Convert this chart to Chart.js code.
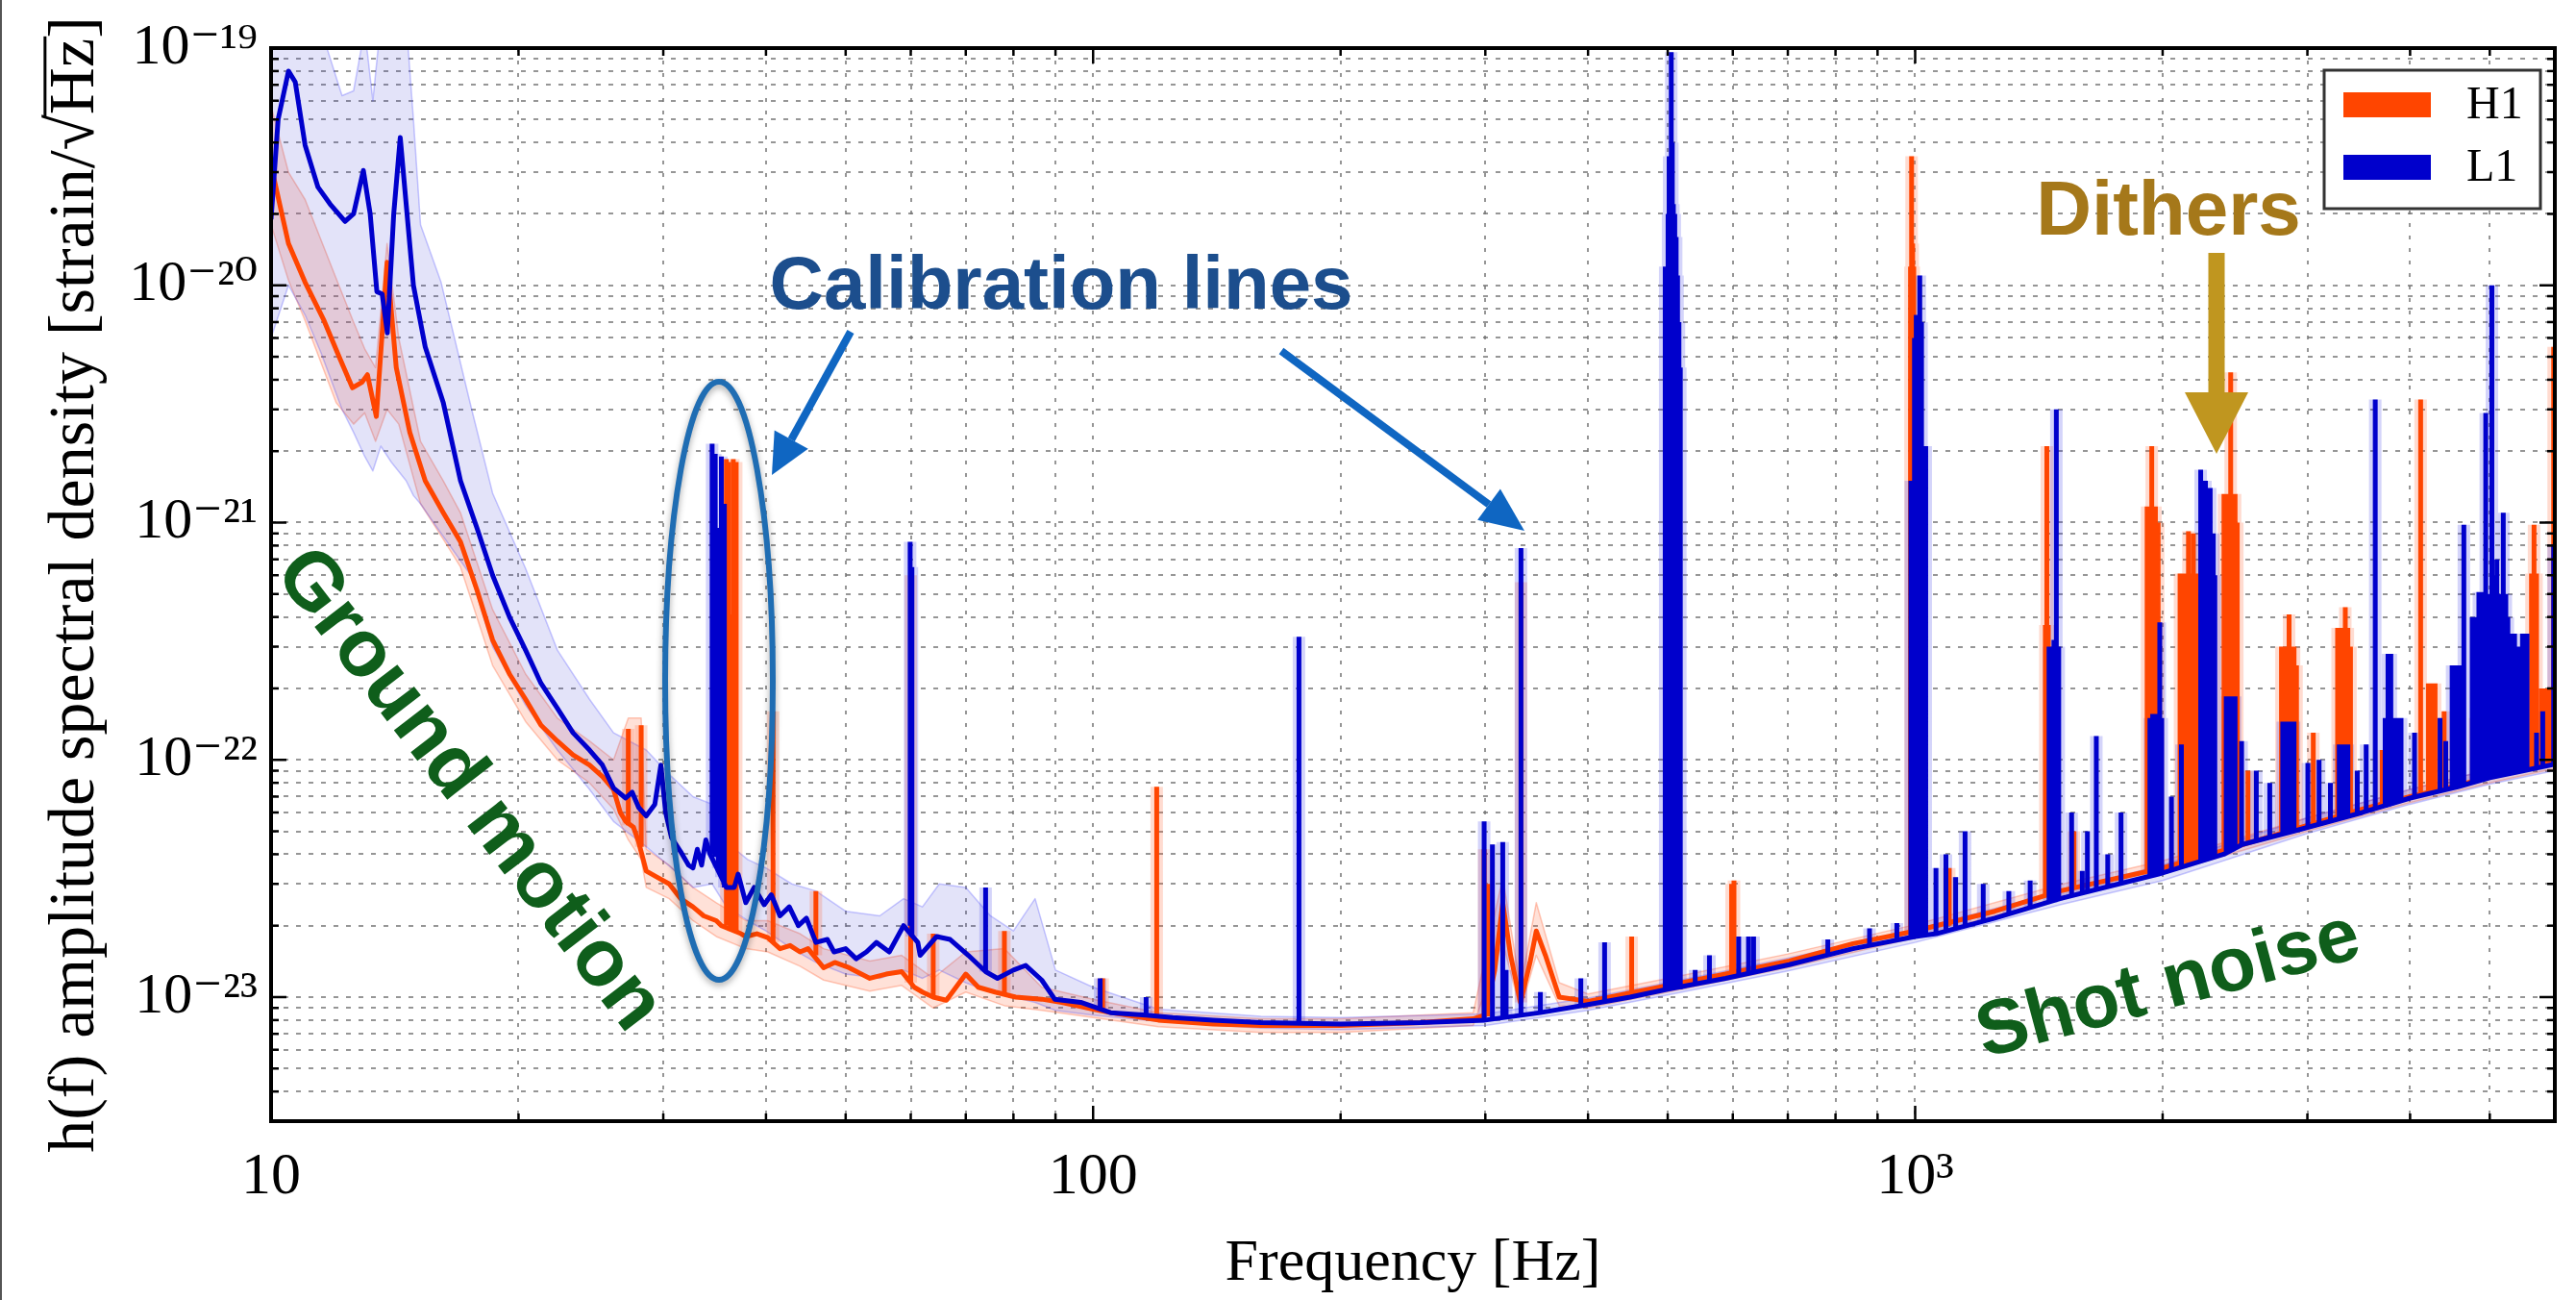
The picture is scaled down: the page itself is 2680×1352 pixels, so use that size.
<!DOCTYPE html>
<html>
<head>
<meta charset="utf-8">
<script src="https://cdn.jsdelivr.net/npm/chart.js@4.4.1/dist/chart.umd.min.js"></script>
<style>
html,body{margin:0;padding:0;background:#fff;}
#wrap{position:relative;width:2680px;height:1352px;}
canvas{display:block;}
</style>
</head>
<body>
<div id="wrap"><canvas id="c" width="2680" height="1352"></canvas></div>
<script>
// ---------------- DATA ----------------
// Median amplitude spectral density curves: [frequency Hz, strain/sqrt(Hz)]
const l1Curve = [
[10.0,1.9e-20],[10.2,5.0e-20],[10.5,8.0e-20],[10.7,7.2e-20],[11.0,3.9e-20],[11.4,2.6e-20],[11.8,2.2e-20],[12.3,1.86e-20],[12.6,2.0e-20],[12.95,3.05e-20],[13.2,2.0e-20],[13.45,9.4e-21],[13.65,9.2e-21],[13.85,6.3e-21],[14.1,2.0e-20],[14.36,4.2e-20],[14.6,2.2e-20],[14.9,1.0e-20],[15.4,5.5e-21],[16.2,3.2e-21],[17.0,1.5e-21],[17.8,9.5e-22],[18.6,6.0e-22],[19.5,4.0e-22],[20.4,2.9e-22],[21.3,2.1e-22],[22.3,1.65e-22],[23.3,1.3e-22],[24.4,1.1e-22],[25.3,9.5e-23],[26.1,7.6e-23],[27.0,6.9e-23],[27.5,7.3e-23],[28.0,6.3e-23],[28.6,5.8e-23],[29.3,6.5e-23],[29.8,9.5e-23],[30.2,6.0e-23],[30.7,4.7e-23],[31.5,4.1e-23],[32.2,3.6e-23],[32.6,3.5e-23],[33.0,4.2e-23],[33.4,3.6e-23],[33.8,4.6e-23],[34.2,4.0e-23],[35.8,2.9e-23],[36.6,2.9e-23],[37.0,3.3e-23],[37.8,2.5e-23],[38.7,2.9e-23],[39.8,2.45e-23],[40.6,2.7e-23],[41.6,2.2e-23],[42.7,2.4e-23],[43.8,2.0e-23],[44.8,2.15e-23],[46.0,1.7e-23],[47.5,1.75e-23],[48.4,1.55e-23],[50.0,1.6e-23],[51.5,1.45e-23],[53.0,1.55e-23],[54.5,1.7e-23],[56.5,1.55e-23],[58.8,2.0e-23],[61.2,1.7e-23],[61.6,1.5e-23],[64.5,1.8e-23],[67.0,1.75e-23],[70.5,1.5e-23],[74.0,1.28e-23],[76.5,1.2e-23],[80.0,1.3e-23],[82.8,1.36e-23],[86.6,1.18e-23],[89.8,9.8e-24],[96.6,9.5e-24],[105,8.6e-24],[116,8.4e-24],[125,8.2e-24],[140,8.0e-24],[160,7.8e-24],[200,7.7e-24],[250,7.8e-24],[300,8.0e-24],[350,8.6e-24],[400,9.3e-24],[450,1.0e-23],[500,1.08e-23],[588,1.2e-23],[703,1.37e-23],[840,1.6e-23],[1000,1.8e-23],[1061,1.85e-23],[1250,2.15e-23],[1500,2.6e-23],[1977,3.3e-23],[2373,4.0e-23],[2500,4.4e-23],[2884,5.0e-23],[3500,6.0e-23],[4000,6.9e-23],[4571,7.7e-23],[5000,8.4e-23],[5500,9.0e-23],[6000,9.6e-23]
];
const h1Curve = [
[10.0,3.2e-20],[10.5,1.5e-20],[11.0,1.03e-20],[11.6,7.1e-21],[12.1,5.0e-21],[12.56,3.7e-21],[12.9,3.9e-21],[13.1,4.2e-21],[13.43,2.8e-21],[13.84,1.25e-20],[14.2,4.5e-21],[14.75,2.4e-21],[15.4,1.5e-21],[16.2,1.1e-21],[17.0,8.3e-22],[17.8,5.2e-22],[18.6,3.2e-22],[19.5,2.3e-22],[20.4,1.8e-22],[21.3,1.4e-22],[22.3,1.2e-22],[23.3,1.05e-22],[24.4,9.5e-23],[25.3,8.5e-23],[26.1,7.5e-23],[26.6,6.0e-23],[27.0,5.5e-23],[27.6,5.2e-23],[28.0,4.5e-23],[28.6,3.4e-23],[29.5,3.2e-23],[30.5,3.0e-23],[31.5,2.6e-23],[32.6,2.4e-23],[33.6,2.2e-23],[34.8,2.1e-23],[35.3,2.0e-23],[37.3,1.85e-23],[37.8,1.8e-23],[39.0,1.85e-23],[40.2,1.78e-23],[41.6,1.6e-23],[42.8,1.65e-23],[44.0,1.55e-23],[45.0,1.6e-23],[47.0,1.33e-23],[48.5,1.4e-23],[50.5,1.33e-23],[53.5,1.2e-23],[56.0,1.25e-23],[58.5,1.28e-23],[60.6,1.1e-23],[62.0,1.05e-23],[63.9,1.0e-23],[66.3,9.7e-24],[70.0,1.25e-23],[72.5,1.1e-23],[76.0,1.05e-23],[80.5,1.0e-23],[86.6,9.8e-24],[91.6,9.5e-24],[100,8.9e-24],[105,8.6e-24],[120,8.0e-24],[140,7.7e-24],[160,7.6e-24],[200,7.6e-24],[250,7.8e-24],[290,8.1e-24],[300,8.4e-24],[308,1.3e-23],[315,2.5e-23],[322,1.5e-23],[331,9.5e-24],[340,1.4e-23],[346,1.9e-23],[355,1.5e-23],[369,1.0e-23],[400,9.6e-24],[450,1.04e-23],[500,1.12e-23],[588,1.25e-23],[703,1.42e-23],[840,1.68e-23],[1000,1.9e-23],[1061,2.0e-23],[1250,2.3e-23],[1500,2.8e-23],[2000,3.5e-23],[2400,4.2e-23],[3000,5.3e-23],[3500,6.2e-23],[4000,7.0e-23],[4571,7.8e-23],[5000,8.5e-23],[6000,9.8e-23]
];
// Percentile bands: [frequency, lower, upper]
const l1Band = [
[10.0,6.0e-21,1.3e-19],[10.5,1.0e-20,1.3e-19],[11.0,7.5e-21,1.3e-19],[11.5,5.2e-21,1.2e-19],[12.2,3.0e-21,6.3e-20],[12.6,2.4e-21,6.6e-20],[13.0,1.9e-21,1.2e-19],[13.3,1.65e-21,6.0e-20],[13.6,2.1e-21,1.3e-19],[14.0,1.8e-21,1.3e-19],[14.6,1.5e-21,1.3e-19],[14.9,1.3e-21,5.0e-20],[15.2,1.2e-21,1.8e-20],[16.1,9.0e-22,1.03e-20],[17.5,6.0e-22,3.1e-21],[18.6,3.0e-22,1.33e-21],[20.4,1.7e-22,6.4e-22],[22.3,1.1e-22,2.9e-22],[24.4,7.5e-23,1.8e-22],[26.1,5.5e-23,1.3e-22],[28.6,4.3e-23,1.1e-22],[30.7,3.5e-23,8.5e-23],[32.6,2.9e-23,7.0e-23],[34.4,3.0e-23,6.5e-23],[35.8,2.4e-23,4.5e-23],[38.0,2.1e-23,3.8e-23],[40.0,1.9e-23,3.5e-23],[43.0,1.6e-23,3.0e-23],[46.0,1.4e-23,2.8e-23],[50.0,1.25e-23,2.3e-23],[55.0,1.2e-23,2.2e-23],[58.8,1.3e-23,2.6e-23],[62.0,1.2e-23,2.4e-23],[65.0,1.3e-23,3.0e-23],[70.0,1.15e-23,2.9e-23],[75.0,1.05e-23,2.2e-23],[80.0,1.0e-23,1.9e-23],[85.0,9.5e-24,2.6e-23],[90.0,8.8e-24,1.3e-23],[100,8.4e-24,1.1e-23],[120,7.9e-24,8.9e-24],[160,7.4e-24,8.3e-24],[200,7.3e-24,8.2e-24],[300,7.6e-24,8.5e-24],[400,8.8e-24,9.9e-24],[500,1.02e-23,1.15e-23],[700,1.29e-23,1.46e-23],[1000,1.7e-23,1.92e-23],[1500,2.45e-23,2.8e-23],[2000,3.1e-23,3.6e-23],[3000,4.9e-23,5.7e-23],[4000,6.5e-23,7.5e-23],[5000,7.9e-23,9.1e-23],[6000,9.0e-23,1.04e-22]
];
const h1Band = [
[10.0,1.8e-20,5.7e-20],[10.5,1.05e-20,3.0e-20],[11.0,7.1e-21,2.3e-20],[12.0,3.2e-21,1.07e-20],[12.6,2.6e-21,7.0e-21],[13.0,2.9e-21,5.4e-21],[13.4,2.2e-21,4.5e-21],[13.84,3.0e-21,1.5e-20],[14.3,2.6e-21,6.0e-21],[15.2,1.2e-21,2.2e-21],[16.2,8.5e-22,1.5e-21],[17.0,6.5e-22,1.1e-21],[18.6,2.5e-22,4.3e-22],[20.4,1.45e-22,2.3e-22],[22.3,1.0e-22,1.5e-22],[24.4,8.0e-23,1.2e-22],[26.1,6.2e-23,1.0e-22],[27.2,4.6e-23,1.5e-22],[28.2,3.8e-23,1.5e-22],[28.6,2.9e-23,4.2e-23],[30.5,2.6e-23,3.6e-23],[32.6,2.1e-23,2.9e-23],[34.8,1.8e-23,2.5e-23],[37.8,1.6e-23,2.1e-23],[40.2,1.55e-23,2.1e-23],[44.0,1.35e-23,1.85e-23],[47.0,1.18e-23,1.6e-23],[53.5,1.06e-23,1.42e-23],[58.5,1.12e-23,1.5e-23],[63.9,9.0e-24,1.2e-23],[70.0,1.05e-23,1.55e-23],[78.0,9.2e-24,1.6e-23],[86.6,8.8e-24,1.1e-23],[100,8.2e-24,9.8e-24],[120,7.5e-24,8.6e-24],[160,7.1e-24,8.1e-24],[200,7.1e-24,8.1e-24],[290,7.6e-24,8.6e-24],[315,1.7e-23,3.2e-23],[331,8.8e-24,1.1e-23],[346,1.5e-23,2.5e-23],[369,9.2e-24,1.15e-23],[400,9.0e-24,1.03e-23],[500,1.05e-23,1.2e-23],[700,1.33e-23,1.52e-23],[1000,1.78e-23,2.02e-23],[1500,2.62e-23,2.98e-23],[2000,3.3e-23,3.75e-23],[3000,5.0e-23,5.7e-23],[4000,6.6e-23,7.5e-23],[5000,8.0e-23,9.1e-23],[6000,9.2e-23,1.05e-22]
];
// Narrow spectral lines: [frequency, foot value, peak value]
const l1Lines = [
[34.4,4.0e-23,2.15e-21],[34.7,3.9e-23,1.95e-21],[35.0,3.5e-23,9.5e-22],[35.3,3.2e-23,1.9e-21],[35.6,2.9e-23,1.2e-21],
[59.9,2.0e-23,8.3e-22],[60.2,1.8e-23,6.5e-22],[74.0,1.28e-23,2.9e-23],[102,8.9e-24,1.2e-23],[116,8.4e-24,1.0e-23],
[178,7.8e-24,3.3e-22],[299,8.0e-24,5.5e-23],[306,8.0e-24,4.4e-23],[315,8.1e-24,4.5e-23],[318,8.1e-24,1.3e-23],
[331.5,8.3e-24,7.8e-22],[350,8.6e-24,1.05e-23],[392,9.2e-24,1.2e-23],[419,9.5e-24,1.7e-23],
[496.5,1.08e-23,1.2e-20],[498.5,1.08e-23,1.2e-20],[500.5,1.08e-23,2.0e-20],[502,1.08e-23,3.5e-20],[503.5,1.08e-23,2.2e-20],[505,1.08e-23,9.6e-20],[506.5,1.08e-23,4.0e-20],[508,1.08e-23,2.2e-20],[510,1.08e-23,2.0e-20],[512,1.08e-23,1.6e-20],[514,1.08e-23,1.1e-20],[516,1.08e-23,7.0e-21],[518,1.08e-23,4.5e-21],
[540,1.13e-23,1.3e-23],[562,1.16e-23,1.5e-23],[610,1.25e-23,1.8e-23],[627,1.27e-23,1.8e-23],[636,1.28e-23,1.8e-23],[783,1.5e-23,1.75e-23],[880,1.65e-23,1.95e-23],[950,1.75e-23,2.05e-23],
[988,1.8e-23,1.5e-21],[993,1.8e-23,1.5e-21],[998,1.8e-23,6.0e-21],[1003,1.8e-23,7.5e-21],[1008,1.8e-23,7.0e-21],[1013,1.8e-23,1.1e-20],[1018,1.8e-23,7.0e-21],[1024,1.8e-23,2.1e-21],[1030,1.8e-23,2.1e-21],
[1060,1.85e-23,3.5e-23],[1090,1.9e-23,4.0e-23],[1120,1.95e-23,3.2e-23],[1150,2.0e-23,5.0e-23],[1210,2.1e-23,3.0e-23],[1300,2.25e-23,2.8e-23],[1380,2.4e-23,3.1e-23],
[1455,2.5e-23,3.0e-22],[1465,2.5e-23,3.0e-22],[1475,2.55e-23,3.2e-22],[1485,2.55e-23,3.0e-21],[1495,2.6e-23,3.0e-22],
[1550,2.7e-23,6.0e-23],[1597,2.75e-23,3.4e-23],[1620,2.8e-23,5.0e-23],[1661,2.85e-23,1.26e-22],[1715,2.95e-23,4.0e-23],[1780,3.0e-23,6.0e-23],
[1930,3.2e-23,1.5e-22],[1945,3.25e-23,1.56e-22],[1960,3.25e-23,1.56e-22],[1975,3.3e-23,1.5e-22],[1984,3.3e-23,3.8e-22],[1995,3.3e-23,1.5e-22],[2050,3.4e-23,7.0e-23],[2108,3.5e-23,1.16e-22],
[2225,3.75e-23,1.67e-21],[2235,3.75e-23,9.0e-22],[2245,3.8e-23,9.0e-22],[2255,3.8e-23,1.5e-21],[2265,3.8e-23,9.0e-22],[2275,3.85e-23,9.0e-22],[2285,3.85e-23,1.4e-21],[2295,3.85e-23,9.0e-22],[2305,3.9e-23,9.0e-22],[2315,3.9e-23,6.0e-22],
[2390,4.1e-23,1.85e-22],[2410,4.1e-23,1.85e-22],[2430,4.2e-23,1.85e-22],[2450,4.3e-23,1.85e-22],[2495,4.4e-23,1.2e-22],[2600,4.6e-23,9.0e-23],[2700,4.7e-23,8.0e-23],
[2800,4.9e-23,1.45e-22],[2830,4.9e-23,1.45e-22],[2860,5.0e-23,1.45e-22],[2890,5.0e-23,1.45e-22],[3004,5.2e-23,9.7e-23],[3100,5.3e-23,1.0e-22],[3200,5.5e-23,8.0e-23],
[3280,5.6e-23,1.16e-22],[3320,5.7e-23,1.16e-22],[3360,5.8e-23,1.16e-22],[3450,5.9e-23,9.0e-23],[3537,6.0e-23,1.16e-22],[3628,6.2e-23,3.3e-21],
[3730,6.3e-23,1.5e-22],[3760,6.4e-23,2.8e-22],[3790,6.5e-23,2.8e-22],[3830,6.6e-23,1.5e-22],[3870,6.7e-23,1.5e-22],[3900,6.7e-23,1.5e-22],[4050,7.0e-23,1.3e-22],[4350,7.4e-23,1.5e-22],[4420,7.5e-23,1.2e-22],
[4500,7.6e-23,2.5e-22],[4540,7.6e-23,2.5e-22],[4580,7.7e-23,2.5e-22],[4620,7.8e-23,2.5e-22],[4650,7.8e-23,9.8e-22],
[4760,8.0e-23,4.0e-22],[4800,8.0e-23,4.0e-22],[4850,8.1e-23,5.1e-22],[4900,8.2e-23,5.1e-22],[4944,8.3e-23,2.9e-21],[4990,8.3e-23,5.0e-22],[5030,8.4e-23,1.0e-20],[5070,8.5e-23,6.0e-22],[5100,8.5e-23,7.0e-22],[5150,8.6e-23,5.0e-22],[5193,8.7e-23,1.1e-21],[5230,8.7e-23,5.0e-22],[5260,8.8e-23,4.0e-22],
[5300,8.8e-23,3.4e-22],[5360,8.9e-23,3.4e-22],[5420,9.0e-23,3.0e-22],[5480,9.0e-23,3.4e-22],[5550,9.1e-23,3.4e-22],[5700,9.3e-23,1.3e-22],[5800,9.4e-23,1.6e-22],[5980,9.6e-23,8.1e-22]
];
const h1Lines = [
[27.2,5.3e-23,1.35e-22],[28.2,4.3e-23,1.4e-22],
[35.8,2.0e-23,1.85e-21],[36.0,2.0e-23,1.8e-21],[36.2,1.95e-23,4.1e-22],[36.5,1.9e-23,1.85e-21],[36.8,1.9e-23,1.8e-21],
[40.8,1.7e-23,1.6e-22],[46.0,1.5e-23,2.8e-23],[60.0,1.15e-23,6.0e-22],[63.9,1.0e-23,1.85e-23],[78.0,1.02e-23,1.9e-23],[102.7,8.8e-24,1.2e-23],
[119.5,8.0e-24,7.7e-23],[299,8.3e-24,4.2e-23],[302,8.3e-24,3.0e-23],[331.5,9.5e-24,5.6e-22],
[452,1.04e-23,1.8e-23],[505,1.12e-23,2.5e-23],[598,1.25e-23,3.0e-23],[602,1.25e-23,3.1e-23],
[987,1.9e-23,1.2e-20],[990,1.9e-23,3.5e-20],[993,1.9e-23,1.5e-20],[996,1.9e-23,1.2e-20],[1000,1.9e-23,5.0e-21],[1004,1.9e-23,2.0e-21],[1100,2.0e-23,3.5e-23],
[1440,2.7e-23,3.7e-22],[1446,2.7e-23,2.1e-21],[1452,2.7e-23,3.7e-22],[1458,2.75e-23,3.0e-22],[1560,2.9e-23,5.0e-23],
[1915,3.4e-23,1.17e-21],[1925,3.4e-23,1.17e-21],[1935,3.4e-23,1.17e-21],[1940,3.45e-23,2.1e-21],[1950,3.45e-23,1.17e-21],[1960,3.5e-23,1.17e-21],[1975,3.5e-23,1.0e-21],
[2100,3.7e-23,6.1e-22],[2115,3.7e-23,6.1e-22],[2130,3.75e-23,6.1e-22],[2150,3.8e-23,9.2e-22],[2165,3.8e-23,6.1e-22],[2180,3.85e-23,9.0e-22],[2195,3.9e-23,6.1e-22],[2208,3.9e-23,5.0e-22],
[2375,4.15e-23,1.32e-21],[2390,4.2e-23,1.32e-21],[2405,4.2e-23,1.32e-21],[2420,4.25e-23,4.3e-21],[2435,4.3e-23,1.32e-21],[2450,4.3e-23,1.32e-21],[2465,4.35e-23,1.0e-21],[2540,4.5e-23,9.0e-23],
[2790,5.0e-23,3.0e-22],[2810,5.0e-23,3.0e-22],[2830,5.0e-23,3.0e-22],[2850,5.1e-23,4.1e-22],[2870,5.1e-23,3.0e-22],[2890,5.1e-23,3.0e-22],[2910,5.2e-23,2.5e-22],[3050,5.4e-23,1.3e-22],
[3265,5.8e-23,3.6e-22],[3290,5.8e-23,3.6e-22],[3315,5.9e-23,3.6e-22],[3336,5.9e-23,4.4e-22],[3360,6.0e-23,3.6e-22],[3385,6.0e-23,3.0e-22],[3700,6.5e-23,1.1e-22],
[4120,7.1e-23,3.3e-21],[4210,7.3e-23,2.1e-22],[4250,7.3e-23,2.1e-22],[4290,7.4e-23,2.1e-22],[4400,7.6e-23,1.6e-22],[4800,8.2e-23,1.5e-22],
[5620,9.3e-23,6.1e-22],[5660,9.4e-23,9.8e-22],[5700,9.4e-23,6.1e-22],[5780,9.5e-23,2.0e-22],[5840,9.6e-23,2.0e-22],[5900,9.7e-23,2.0e-22],[5980,9.8e-23,5.5e-21]
];
// Axis ticks and labels
const xTickValues = [10,20,30,40,50,60,70,80,90,100,200,300,400,500,600,700,800,900,1000,2000,3000,4000,5000,6000];
const xTickLabels = ['10','100','10³'];          // decades 10^1, 10^2, 10^3
const yTickValues = [3e-24,4e-24,5e-24,6e-24,7e-24,8e-24,9e-24,1e-23,2e-23,3e-23,4e-23,5e-23,6e-23,7e-23,8e-23,9e-23,1e-22,2e-22,3e-22,4e-22,5e-22,6e-22,7e-22,8e-22,9e-22,1e-21,2e-21,3e-21,4e-21,5e-21,6e-21,7e-21,8e-21,9e-21,1e-20,2e-20,3e-20,4e-20,5e-20,6e-20,7e-20,8e-20,9e-20,1e-19];
const yTickLabels = ['10⁻²³','10⁻²²','10⁻²¹','10⁻²⁰','10⁻¹⁹']; // decades -23 .. -19
const seriesNames = ['H1','L1'];

// ---------------- STYLE ----------------
const C_H1 = '#ff4500', C_L1 = '#0000cc';
const SERIF = '"Liberation Serif", "DejaVu Serif", serif';
const SANS = '"Liberation Sans", Arial, sans-serif';
const GRID = 'rgba(115,115,115,0.75)';
const Y_TITLE = {size: 68, pad: 38};

const decadeOf = v => { const l = Math.log10(v); const r = Math.round(l); return Math.abs(l - r) < 1e-6 ? r : null; };
const pts = a => a.map(r => ({x: r[0], y: r[1]}));
const bandPts = (a, i) => a.map(r => ({x: r[0], y: r[i]}));
const linePts = a => a.flatMap(r => [{x: r[0], y: r[1]}, {x: r[0], y: r[2]}, {x: r[0], y: null}]);
const base = {pointRadius: 0, pointHoverRadius: 0, tension: 0, spanGaps: false, borderCapStyle: 'butt', borderJoinStyle: 'round', fill: false};

// ---------------- PLUGINS ----------------
function seg(ctx, x1, y1, x2, y2) { ctx.beginPath(); ctx.moveTo(x1, y1); ctx.lineTo(x2, y2); ctx.stroke(); }

const frameTicks = {
  id: 'frameTicks',
  afterDraw(chart) {
    const {ctx, chartArea: a, scales: {x, y}} = chart;
    ctx.save();
    ctx.strokeStyle = '#000'; ctx.lineWidth = 2.5;
    x.ticks.forEach(t => {
      const p = x.getPixelForValue(t.value); const L = decadeOf(t.value) !== null ? 16 : 8;
      seg(ctx, p, a.bottom, p, a.bottom - L); seg(ctx, p, a.top, p, a.top + L);
    });
    y.ticks.forEach(t => {
      const p = y.getPixelForValue(t.value); const L = decadeOf(t.value) !== null ? 16 : 8;
      seg(ctx, a.left, p, a.left + L, p); seg(ctx, a.right, p, a.right - L, p);
    });
    ctx.lineWidth = 4;
    ctx.strokeRect(a.left, a.top, a.right - a.left, a.bottom - a.top);
    ctx.strokeStyle = '#555'; ctx.lineWidth = 2; seg(ctx, 1, 0, 1, chart.height);
    ctx.restore();
  }
};

const sqrtBar = {
  id: 'sqrtBar',
  afterDraw(chart) {
    const s = chart.scales.y; const ctx = chart.ctx; const text = s.options.title.text;
    const fs = Y_TITLE.size; const lh = fs * 1.2;
    ctx.save();
    ctx.font = fs + 'px ' + SERIF;
    const full = ctx.measureText(text).width;
    const i = text.indexOf('√');
    const pre = ctx.measureText(text.slice(0, i)).width;
    const rw = ctx.measureText('√').width;
    const hz = ctx.measureText('Hz').width;
    const cx = s.left + lh / 2 + Y_TITLE.pad; const cy = (s.top + s.bottom) / 2;
    ctx.translate(cx, cy); ctx.rotate(-Math.PI / 2);
    const x0 = -full / 2 + pre + rw * 0.92, x1 = -full / 2 + pre + rw + hz + 2;
    ctx.strokeStyle = '#000'; ctx.lineWidth = 3;
    seg(ctx, x0, -fs * 0.47, x1, -fs * 0.47);
    ctx.restore();
  }
};

const legendBox = {
  id: 'legendBox',
  afterDraw(chart) {
    const ctx = chart.ctx;
    const box = {x: 2418, y: 73, w: 225, h: 144};
    ctx.save();
    ctx.fillStyle = '#fff'; ctx.fillRect(box.x, box.y, box.w, box.h);
    ctx.strokeStyle = '#333'; ctx.lineWidth = 3; ctx.strokeRect(box.x, box.y, box.w, box.h);
    const colors = {H1: C_H1, L1: C_L1};
    seriesNames.forEach((name, k) => {
      const yy = box.y + 23 + k * 65;
      ctx.fillStyle = colors[name]; ctx.fillRect(box.x + 20, yy, 91, 26);
      ctx.fillStyle = '#000'; ctx.font = '48px ' + SERIF; ctx.textBaseline = 'middle'; ctx.textAlign = 'left';
      ctx.fillText(name, box.x + 148, yy + 14);
    });
    ctx.restore();
  }
};

function arrow(ctx, x1, y1, x2, y2, shaft, headLen, headW, color) {
  const ang = Math.atan2(y2 - y1, x2 - x1);
  const bx = x2 - headLen * Math.cos(ang), by = y2 - headLen * Math.sin(ang);
  ctx.save();
  ctx.strokeStyle = color; ctx.fillStyle = color; ctx.lineWidth = shaft; ctx.lineCap = 'butt';
  seg(ctx, x1, y1, bx, by);
  ctx.beginPath();
  ctx.moveTo(x2, y2);
  ctx.lineTo(bx + headW / 2 * Math.sin(ang), by - headW / 2 * Math.cos(ang));
  ctx.lineTo(bx - headW / 2 * Math.sin(ang), by + headW / 2 * Math.cos(ang));
  ctx.closePath(); ctx.fill();
  ctx.restore();
}
function label(ctx, text, x, y, size, color, angleDeg, baseline) {
  ctx.save();
  ctx.translate(x, y); ctx.rotate(angleDeg * Math.PI / 180);
  ctx.font = 'bold ' + size + 'px ' + SANS; ctx.fillStyle = color;
  ctx.textAlign = 'center'; ctx.textBaseline = baseline || 'middle';
  ctx.fillText(text, 0, 0);
  ctx.restore();
}

const annotations = {
  id: 'annotations',
  afterDraw(chart) {
    const ctx = chart.ctx;
    ctx.save();
    ctx.shadowColor = 'rgba(0,0,0,0.35)'; ctx.shadowBlur = 7; ctx.shadowOffsetY = 3;
    ctx.strokeStyle = '#1f6db3'; ctx.lineWidth = 6;
    ctx.beginPath(); ctx.ellipse(748, 708, 56, 311, 0, 0, Math.PI * 2); ctx.stroke();
    ctx.restore();
    label(ctx, 'Calibration lines', 1104, 321, 78, '#1c4e8d', 0, 'alphabetic');
    arrow(ctx, 885, 345, 803, 494, 8, 42, 40, '#0f66c2');
    arrow(ctx, 1333, 365, 1586, 552, 8, 46, 40, '#0f66c2');
    label(ctx, 'Dithers', 2256, 244, 80, '#a5781a', 0, 'alphabetic');
    arrow(ctx, 2306, 263, 2306, 472, 17, 64, 66, '#c0961f');
    label(ctx, 'Ground motion', 487, 822, 84, '#0f5e1b', 52.5);
    label(ctx, 'Shot noise', 2256, 1026, 80, '#0f5e1b', -15);
  }
};

// ---------------- CHART ----------------
new Chart(document.getElementById('c'), {
  type: 'line',
  data: {
    datasets: [
      {label: 'L1 lines', data: linePts(l1Lines), borderColor: C_L1, borderWidth: 5, ...base},
      {label: 'L1', data: pts(l1Curve), borderColor: C_L1, borderWidth: 5, ...base},
      {label: 'H1 lines', data: linePts(h1Lines), borderColor: C_H1, borderWidth: 5, ...base},
      {label: 'H1', data: pts(h1Curve), borderColor: C_H1, borderWidth: 5, ...base},
      {label: 'L1 lines band', data: linePts(l1Lines), borderColor: 'rgba(40,40,230,0.2)', borderWidth: 13, ...base},
      {label: 'H1 lines band', data: linePts(h1Lines), borderColor: 'rgba(255,90,40,0.22)', borderWidth: 13, ...base},
      {label: 'L1 upper', data: bandPts(l1Band, 2), borderColor: 'rgba(60,60,255,0.28)', borderWidth: 1.5, ...base, fill: '+1', backgroundColor: 'rgba(60,60,215,0.14)'},
      {label: 'L1 lower', data: bandPts(l1Band, 1), borderColor: 'rgba(60,60,255,0.28)', borderWidth: 1.5, ...base},
      {label: 'H1 upper', data: bandPts(h1Band, 2), borderColor: 'rgba(255,80,30,0.3)', borderWidth: 1.5, ...base, fill: '+1', backgroundColor: 'rgba(255,90,40,0.18)'},
      {label: 'H1 lower', data: bandPts(h1Band, 1), borderColor: 'rgba(255,80,30,0.3)', borderWidth: 1.5, ...base}
    ]
  },
  options: {
    responsive: false, animation: false, events: [],
    layout: {padding: {left: 0, right: 14, top: 50, bottom: 0}},
    plugins: {legend: {display: false}, tooltip: {enabled: false}},
    scales: {
      x: {
        type: 'logarithmic', min: 10, max: 6000, position: 'bottom',
        afterBuildTicks: s => { s.ticks = xTickValues.map(v => ({value: v})); },
        afterFit: s => { s.height = 186; },
        ticks: {autoSkip: false, maxRotation: 0, padding: 22, color: '#000', font: {family: SERIF, size: 62},
          callback: v => { const d = decadeOf(v); return d === null ? '' : xTickLabels[d - 1]; }},
        grid: {color: GRID, lineWidth: 2, drawTicks: false},
        border: {display: false, dash: [4, 9]},
        title: {display: true, text: 'Frequency [Hz]', color: '#000', font: {family: SERIF, size: 62}, padding: {top: 0, bottom: 0}}
      },
      y: {
        type: 'logarithmic', min: 3e-24, max: 1e-19, position: 'left',
        afterBuildTicks: s => { s.ticks = yTickValues.map(v => ({value: v})); },
        afterFit: s => { s.width = 282; },
        ticks: {autoSkip: false, padding: 14, color: '#000', font: {family: SERIF, size: 60},
          callback: v => { const d = decadeOf(v); return d === null ? '' : yTickLabels[d + 23]; }},
        grid: {color: GRID, lineWidth: 2, drawTicks: false},
        border: {display: false, dash: [5, 8]},
        title: {display: true, text: 'h(f) amplitude spectral density [strain/√Hz]', color: '#000',
          font: {family: SERIF, size: Y_TITLE.size}, padding: {top: Y_TITLE.pad, bottom: 0}}
      }
    }
  },
  plugins: [frameTicks, sqrtBar, legendBox, annotations]
});
</script>
</body>
</html>
